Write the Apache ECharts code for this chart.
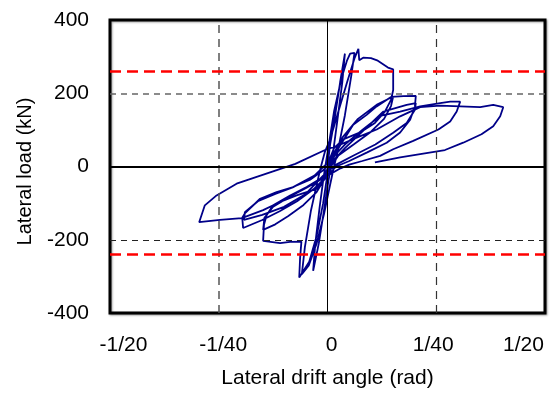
<!DOCTYPE html>
<html>
<head>
<meta charset="utf-8">
<script src="https://cdn.jsdelivr.net/npm/echarts@6/dist/echarts.min.js"></script>
<style>
html,body{margin:0;padding:0;background:#fff;}
#chart{width:556px;height:394px;}
</style>
</head>
<body>
<div id="chart"></div>
<script>
// ---- data (drift angle in rad, lateral load in kN) ----
const xTickLabels = ['-1/20', '-1/40', '0', '1/40', '1/20'];
const yTickValues = [-400, -200, 0, 200, 400];
const refLoads = [260, -240];          // red dashed reference loads
const gridLoads = [200, -200];         // black dashed load lines
const gridDrifts = [-0.025, 0.025];    // dashed drift lines

const cycleA = [[0,0],[0.0006,60],[0.0015,120],[0.0029,230],[0.0040,308],[0.0034,230],[0.0022,120],[0.0013,40],[0.0008,0],
  [0.0002,-40],[-0.0008,-120],[-0.0020,-210],[-0.0033,-285],[-0.0028,-210],[-0.0018,-110],[-0.0009,-30],[-0.0005,0]];
const cycleB = [[0.0003,60],[0.0015,150],[0.0032,240],[0.0045,290],[0.0052,308],[0.0062,310],[0.0055,250],[0.0040,140],
  [0.0025,50],[0.0015,0],[0.0006,-50],[-0.0008,-130],[-0.0025,-210],[-0.0043,-270],[-0.0059,-294],[-0.0052,-220],
  [-0.0038,-120],[-0.0023,-40],[-0.0015,0]];
const cycleC = [[-0.0006,40],[0.0006,74],[0.0025,150],[0.0045,230],[0.0062,295],[0.0071,321],[0.0073,290],[0.0082,297],
  [0.0100,296],[0.0114,290],[0.0139,270],[0.0151,265],[0.0151,209],[0.0146,182],[0.0132,150],[0.0109,119],[0.0075,93],
  [0.0036,74],[0.0015,50],[0.0005,20],[0.0000,-20],[-0.0010,-100],[-0.0025,-190],[-0.0042,-260],[-0.0065,-303],
  [-0.0063,-250],[-0.0060,-205],[-0.0086,-206],[-0.0109,-209],[-0.0148,-203],[-0.0146,-159],[-0.0140,-133],
  [-0.0125,-106],[-0.0086,-79],[-0.0048,-56],[-0.0010,-29],[0.0003,0]];
const cycleD = [[0.0012,30],[0.0035,80],[0.0070,130],[0.0115,170],[0.0151,191],[0.0146,165],[0.0130,130],[0.0100,95],
  [0.0060,60],[0.0025,30],[0.0008,0],[-0.0005,-30],[-0.0025,-70],[-0.0055,-105],[-0.0090,-135],[-0.0120,-158],
  [-0.0148,-173],[-0.0145,-140],[-0.0125,-110],[-0.0086,-82],[-0.0048,-58],[-0.0010,-32],[0.0005,0]];
const cycleE = [[0.0020,40],[0.0059,114],[0.0090,141],[0.0113,164],[0.0146,190],[0.0175,192],[0.0203,193],[0.0201,164],
  [0.0190,128],[0.0167,93],[0.0136,65],[0.0090,38],[0.0050,15],[0.0020,0],[0.0000,-25],[-0.0030,-60],[-0.0070,-95],
  [-0.0110,-122],[-0.0150,-146],[-0.0194,-168],[-0.0196,-140],[-0.0190,-128],[-0.0155,-88],[-0.0117,-70],
  [-0.0079,-56],[-0.0040,-36],[-0.0010,-10],[0.0010,12]];
const cycleF = [[0.0040,50],[0.0080,95],[0.0128,150],[0.0182,168],[0.0203,173],[0.0201,155],[0.0182,119],[0.0151,92],
  [0.0110,60],[0.0060,30],[0.0020,5],[-0.0010,-25],[-0.0050,-75],[-0.0100,-110],[-0.0150,-132],[-0.0192,-146],
  [-0.0190,-125],[-0.0160,-95],[-0.0120,-75],[-0.0080,-57],[-0.0030,-25],[0.0000,10]];
const cycleG = [[0.0040,60],[0.0080,100],[0.0121,138],[0.0167,150],[0.0213,164],[0.0259,173],[0.0282,177],[0.0305,177],
  [0.0297,150],[0.0282,123],[0.0255,101],[0.0197,70],[0.0151,47],[0.0121,29],[0.0080,15],[0.0050,5],[0.0030,-5],
  [0.0000,-25],[-0.0025,-61],[-0.0071,-79],[-0.0109,-97],[-0.0148,-119],[-0.0197,-141],[-0.0247,-146],
  [-0.0295,-152],[-0.0297,-150],[-0.0282,-106],[-0.0255,-79],[-0.0209,-47],[-0.0132,-16],[-0.0074,7],[-0.0002,47]];
const cycleH = [[0.0030,60],[0.0070,80],[0.0113,101],[0.0167,137],[0.0213,162],[0.0259,166],[0.0305,164],[0.0351,162],
  [0.0381,168],[0.0404,162],[0.0397,137],[0.0381,110],[0.0354,88],[0.0312,65],[0.0270,45],[0.0213,34],[0.0167,25],
  [0.0109,11]];

const hysteresis = [].concat(cycleA, cycleB, cycleC, cycleD, cycleE, cycleF, cycleG, cycleH);

const FONT = "'Liberation Sans', Arial, sans-serif";
const chart = echarts.init(document.getElementById('chart'), null, {renderer: 'canvas'});

const xRich = {
  l0: {padding: [0, 0, 0, 27]},
  l1: {padding: [0, 0, 0, 9]},
  l2: {padding: [0, 0, 0, 8]},
  l3: {padding: [0, 6, 0, 0]},
  l4: {padding: [0, 43, 0, 0]}
};

chart.setOption({
  animation: false,
  backgroundColor: '#fff',
  grid: {
    left: 110, right: 11, top: 20, bottom: 77,
    show: true, borderColor: '#000', borderWidth: 3,
    backgroundColor: '#fff',
    shadowColor: 'rgba(0,0,0,0.35)', shadowBlur: 2, shadowOffsetX: 1, shadowOffsetY: 1
  },
  xAxis: {
    type: 'value', min: -0.05, max: 0.05, interval: 0.025,
    axisLine: {show: false}, axisTick: {show: false}, splitLine: {show: false},
    axisLabel: {
      margin: 22, color: '#000', fontSize: 21, fontFamily: FONT,
      formatter: function (v) {
        const i = Math.round(v / 0.025) + 2;
        return '{l' + i + '|' + xTickLabels[i] + '}';
      },
      rich: xRich
    },
    name: 'Lateral drift angle (rad)', nameLocation: 'middle', nameGap: 55,
    nameTextStyle: {color: '#000', fontSize: 21, fontFamily: FONT}
  },
  yAxis: {
    type: 'value', min: -400, max: 400, interval: 200,
    axisLine: {show: false}, axisTick: {show: false}, splitLine: {show: false},
    axisLabel: {
      margin: 21, color: '#000', fontSize: 21, fontFamily: FONT,
      padding: [5, 0, 0, 0],
      formatter: function (v) { return String(yTickValues[yTickValues.indexOf(v)]); }
    },
    name: 'Lateral load (kN)', nameLocation: 'middle', nameGap: 75,
    nameTextStyle: {color: '#000', fontSize: 20, fontFamily: FONT, padding: [0, 10, 0, 0]}
  },
  series: [
    {
      type: 'line', z: 1, data: [[0, 0]], symbol: 'none', lineStyle: {opacity: 0}, silent: true,
      markLine: {
        silent: true, symbol: 'none', label: {show: false}, animation: false, precision: 6,
        data: [
          {yAxis: gridLoads[0], lineStyle: {color: '#666', width: 1.5, type: [6, 5]}},
          {yAxis: gridLoads[1], lineStyle: {color: '#222', width: 1, type: [6, 5]}},
          {xAxis: gridDrifts[0], lineStyle: {color: '#555', width: 1.5, type: [8, 6]}},
          {xAxis: gridDrifts[1], lineStyle: {color: '#333', width: 1.2, type: [8, 6]}},
          {xAxis: 0, lineStyle: {color: '#000', width: 1, type: 'solid'}},
          {yAxis: 0, lineStyle: {color: '#000', width: 2, type: 'solid'}}
        ]
      }
    },
    {
      type: 'line', z: 2, data: hysteresis, symbol: 'none', smooth: false,
      lineStyle: {color: '#000088', width: 1.8}
    },
    {
      type: 'line', z: 3, data: [[0, 0]], symbol: 'none', lineStyle: {opacity: 0}, silent: true,
      markLine: {
        silent: true, symbol: 'none', label: {show: false}, animation: false, precision: 6,
        data: refLoads.map(v => ({yAxis: v, lineStyle: {color: '#ff0000', width: 2.5, type: [11, 6]}}))
      }
    }
  ]
});
</script>
</body>
</html>
